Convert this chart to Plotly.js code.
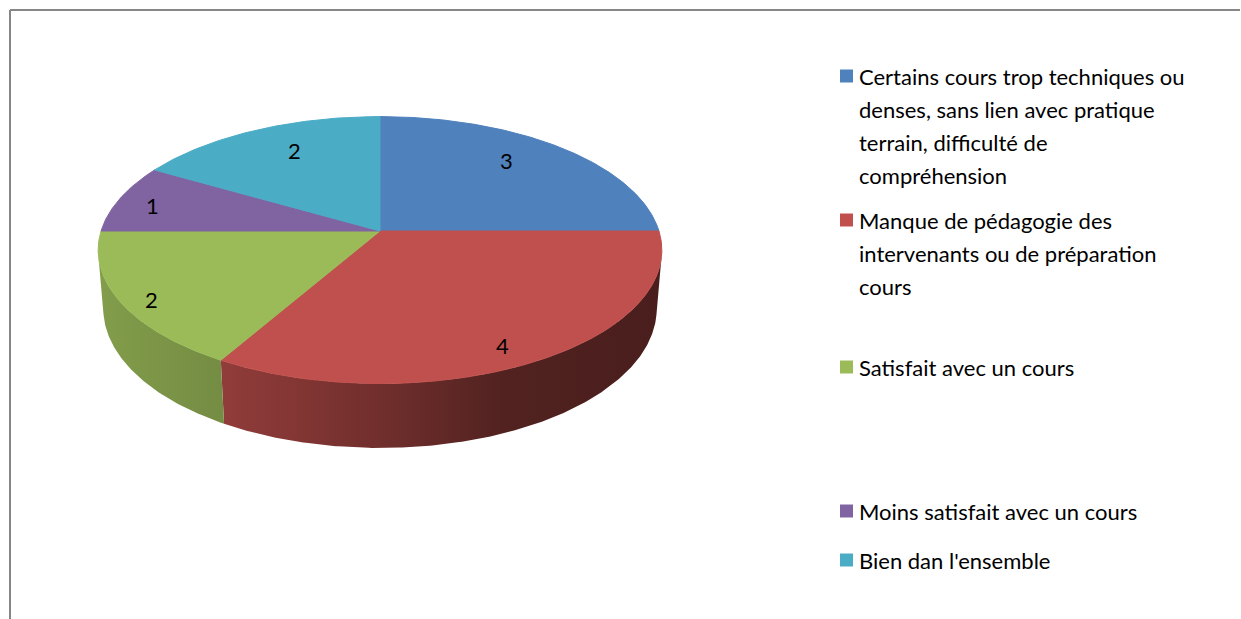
<!DOCTYPE html>
<html>
<head>
<meta charset="utf-8">
<script src="https://cdn.plot.ly/plotly-3.0.1.min.js"></script>
<style>html,body{margin:0;padding:0;background:#fff;}#chart{width:1241px;height:619px;}</style>
</head>
<body>
<div id="chart"></div>
<script>
// ---- data ----
const categories = [
  "Certains cours trop techniques ou<br>denses, sans lien avec pratique<br>terrain, difficulté de<br>compréhension",
  "Manque de pédagogie des<br>intervenants ou de préparation<br>cours",
  "Satisfait avec un cours",
  "Moins satisfait avec un cours",
  "Bien dan l'ensemble"
];
const values = [3, 4, 2, 1, 2];
const colors = ["#4F81BD", "#C0504D", "#9BBB59", "#8064A2", "#4BACC6"];

// ---- layout / geometry settings ----
const W = 1241, Hpx = 619;
const CX = 380, CY = 231;          // pie centre (px)
const F = 1724, D = 6.18;          // perspective
const ALPHA = Math.asin(0.4687);
const SA = Math.sin(ALPHA), CA = Math.cos(ALPHA);
const THICK = 0.24;                // slab thickness (relative to radius)
const labelR = [0.766, 0.869, 0.905, 0.862, 0.751];       // label radius (fraction)
const labelDPhi = [-5.2, 3.2, -2.5, -1.8, 3.3];           // label angle offset (deg)
const legendX = 857, legendFirstY = [76, 220, 367, 511, 560], legendLineGap = 33;
const FONT = "Lato, 'Open Sans', sans-serif";

function project(u, v, h) {
  const depth = D + v * CA - h * SA;
  return [CX + F * u / depth, CY - F * (v * SA + h * CA) / depth];
}
function ptAt(phi, r, h) { return project(r * Math.sin(phi), r * Math.cos(phi), h); }

function shade(hex, k) {
  const n = parseInt(hex.slice(1), 16);
  const r = Math.round(((n >> 16) & 255) * k), g = Math.round(((n >> 8) & 255) * k), b = Math.round((n & 255) * k);
  return `rgb(${r},${g},${b})`;
}

const total = values.reduce((a, b) => a + b, 0);
const traces = [];
const tops = [];
const annotations = [];
const phiVis = Math.acos(-1 / (D * CA));
let acc = 0;
const leftX = ptAt(-Math.PI / 2 - 0.14, 1, 0)[0];
const rightX = ptAt(Math.PI / 2 + 0.14, 1, 0)[0];

values.forEach((val, i) => {
  const a = acc / total * 2 * Math.PI;
  acc += val;
  const b = acc / total * 2 * Math.PI;
  // top face
  const xs = [CX], ys = [CY];
  const steps = Math.max(4, Math.ceil((b - a) / (Math.PI / 360)));
  for (let s = 0; s <= steps; s++) {
    const p = ptAt(a + (b - a) * s / steps, 1, 0);
    xs.push(p[0]); ys.push(p[1]);
  }
  xs.push(CX); ys.push(CY);
  tops.push({
    type: "scatter", mode: "lines", x: xs, y: ys, fill: "toself",
    fillcolor: colors[i], line: {color: colors[i], width: 1},
    hoverinfo: "skip", showlegend: false
  });
  // side wall (visible front part)
  const wa = Math.max(a, phiVis), wb = Math.min(b, 2 * Math.PI - phiVis);
  if (wb > wa) {
    const wx = [], wy = [];
    const n = Math.max(4, Math.ceil((wb - wa) / (Math.PI / 360)));
    for (let s = 0; s <= n; s++) { const p = ptAt(wa + (wb - wa) * s / n, 1, 0); wx.push(p[0]); wy.push(p[1]); }
    for (let s = n; s >= 0; s--) { const p = ptAt(wa + (wb - wa) * s / n, 1, -THICK); wx.push(p[0]); wy.push(p[1]); }
    wx.push(wx[0]); wy.push(wy[0]);
    traces.push({
      type: "scatter", mode: "lines", x: wx, y: wy, fill: "toself",
      fillgradient: {
        type: "horizontal", start: leftX, stop: rightX,
        colorscale: [[0, shade(colors[i], 0.84)], [0.2, shade(colors[i], 0.76)], [0.35, shade(colors[i], 0.68)],
                     [0.55, shade(colors[i], 0.55)], [0.72, shade(colors[i], 0.42)], [1, shade(colors[i], 0.38)]]
      },
      line: {width: 0}, hoverinfo: "skip", showlegend: false
    });
  }
  // data label
  const m = (a + b) / 2 + labelDPhi[i] * Math.PI / 180;
  const lp = ptAt(m, labelR[i], 0);
  annotations.push({
    x: lp[0], y: lp[1], xref: "x", yref: "y", text: String(val), showarrow: false,
    xanchor: "center", yanchor: "middle", font: {family: FONT, size: 22, color: "#000"}
  });
});

// legend (text + swatches)
const shapes = [
  {type: "line", xref: "x", yref: "y", x0: 10, y0: 10, x1: 1240, y1: 10, line: {color: "#868686", width: 2}},
  {type: "line", xref: "x", yref: "y", x0: 10, y0: 10, x1: 10, y1: 619, line: {color: "#868686", width: 2}}
];
categories.forEach((cat, i) => {
  const lines = cat.split("<br>");
  const y0 = legendFirstY[i];
  shapes.push({type: "rect", xref: "x", yref: "y", x0: legendX - 17, x1: legendX - 4, y0: y0 - 6.5, y1: y0 + 6.5,
    fillcolor: colors[i], line: {width: 0}});
  lines.forEach((ln, j) => {
    annotations.push({
      x: legendX, y: y0 + j * legendLineGap, xref: "x", yref: "y", text: ln, showarrow: false,
      xanchor: "left", yanchor: "middle", font: {family: FONT, size: 22, color: "#000"}
    });
  });
});

const layout = {
  width: W, height: Hpx, margin: {l: 0, r: 0, t: 0, b: 0},
  paper_bgcolor: "#fff", plot_bgcolor: "#fff",
  xaxis: {range: [0, W], visible: false, fixedrange: true},
  yaxis: {range: [Hpx, 0], visible: false, fixedrange: true},
  showlegend: false, hovermode: false,
  shapes: shapes, annotations: annotations
};
Plotly.newPlot("chart", traces.concat(tops), layout, {displayModeBar: false, staticPlot: true});
</script>
</body>
</html>
